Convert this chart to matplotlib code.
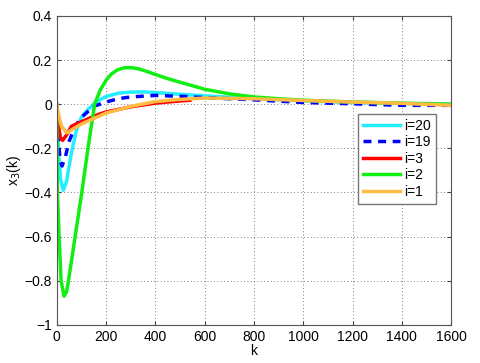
import matplotlib
matplotlib.use('Agg')
import matplotlib.pyplot as plt
from matplotlib.ticker import FuncFormatter

plt.rcParams['font.family'] = ['Liberation Sans', 'DejaVu Sans']

# valores
k_20 = [0, 4, 8, 16, 27, 40, 60, 80, 100, 130, 160, 200, 250, 300, 350, 400, 500, 600, 800, 1000, 1200, 1400, 1600]
y_20 = [0, -0.12, -0.22, -0.34, -0.39, -0.35, -0.22, -0.12, -0.06, -0.02, 0.01, 0.035, 0.05, 0.055, 0.056, 0.053, 0.045, 0.038, 0.025, 0.015, 0.008, 0.003, 0.0]

k_19 = [0, 4, 8, 15, 22, 35, 50, 75, 100, 150, 200, 250, 300, 400, 500, 600, 800, 1000, 1200, 1400, 1600]
y_19 = [0, -0.1, -0.18, -0.26, -0.28, -0.24, -0.17, -0.1, -0.06, -0.01, 0.01, 0.025, 0.033, 0.04, 0.036, 0.03, 0.02, 0.008, 0.002, -0.005, -0.005]

k_3 = [0, 4, 8, 15, 24, 40, 60, 82, 120, 160, 200, 300, 400, 500, 540]
y_3 = [0, -0.06, -0.1, -0.15, -0.164, -0.14, -0.1, -0.088, -0.07, -0.05, -0.035, -0.012, 0.005, 0.015, 0.018]

k_2 = [0, 3, 10, 18, 30, 40, 48, 75, 102, 127, 154, 177, 200, 220, 245, 270, 290, 310, 340, 370, 400, 450, 500, 600, 700, 800, 900, 1000, 1200, 1400, 1600]
y_2 = [0, -0.4, -0.6, -0.8, -0.87, -0.85, -0.8, -0.6, -0.4, -0.2, 0, 0.065, 0.108, 0.135, 0.155, 0.164, 0.166, 0.165, 0.158, 0.147, 0.135, 0.116, 0.1, 0.068, 0.047, 0.033, 0.025, 0.018, 0.01, 0.005, 0.0]

k_1 = [0, 10, 20, 41, 70, 100, 150, 200, 300, 400, 500, 600, 800, 1000, 1200, 1400, 1600]
y_1 = [0, -0.06, -0.1, -0.13, -0.11, -0.09, -0.065, -0.04, -0.01, 0.012, 0.022, 0.028, 0.025, 0.017, 0.01, 0.004, -0.005]

fig = plt.figure(figsize=(4.8, 3.63), dpi=100)
ax = fig.add_axes([0.118, 0.105, 0.822, 0.851])

ax.plot(k_20, y_20, color='#22EEFF', lw=2.5, label='i=20')
ax.plot(k_19, y_19, color='#0000FF', lw=2.5, dashes=(2.3, 1.9), label='i=19')
ax.plot(k_3, y_3, color='#FF0000', lw=2.5, label='i=3')
ax.plot(k_2, y_2, color='#11EE11', lw=2.5, label='i=2')
ax.plot(k_1, y_1, color='#FFBB44', lw=2.5, label='i=1')

ax.set_xlim(0, 1600)
ax.set_ylim(-1, 0.4)
ax.set_xticks(range(0, 1601, 200))
ax.set_yticks([-1, -0.8, -0.6, -0.4, -0.2, 0, 0.2, 0.4])
ax.yaxis.set_major_formatter(FuncFormatter(lambda v, p: ('%g' % round(v, 2)).replace('-', '\u2212')))
ax.grid(True, linestyle=(0, (1, 3)), color='#555555', lw=0.6)
ax.tick_params(direction='in', top=True, right=True, labelsize=10, color='#444444', length=3)
for s in ax.spines.values():
    s.set_color('#555555')

ax.set_xlabel('k', fontsize=10, labelpad=0)
ax.set_ylabel(r'x$_3$(k)', fontsize=10, labelpad=1)

leg = ax.legend(loc='upper right', bbox_to_anchor=(0.962, 0.683), fontsize=10,
                fancybox=False, framealpha=1, edgecolor='#777777', borderaxespad=0,
                handlelength=2.7, labelspacing=0.18, borderpad=0.35, handletextpad=0.3)

fig.savefig('out.png', dpi=100)
